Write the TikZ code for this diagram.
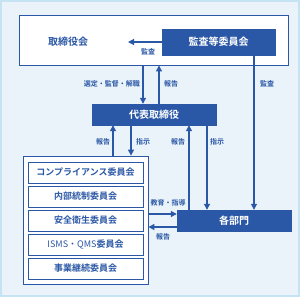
\documentclass[tikz,border=0pt]{standalone}
\usepackage{fontspec}
\newfontfamily\jp{Noto Sans CJK JP Bold}
\newfontfamily\jpr{Noto Sans CJK JP}
\usetikzlibrary{arrows.meta}
\definecolor{navy}{HTML}{2B58A6}
\definecolor{paleblue}{HTML}{EAF3FA}
\definecolor{framec}{HTML}{C5E3F2}
\tikzset{
  whitebox/.style={draw=navy, fill=white, line width=0.9pt, minimum height=21pt,
    text=navy, font=\jp\fontsize{9}{9}\selectfont, inner sep=0pt},
  bluebox/.style={draw=navy, fill=navy, minimum height=21pt,
    text=white, font=\jp\fontsize{10}{10}\selectfont, inner sep=0pt},
  lbl/.style={text=navy, font=\jp\fontsize{7}{7}\selectfont, inner sep=0pt},
  arr/.style={draw=navy, line width=1.1pt, -{Triangle[length=6pt,width=6pt]}}
}
\begin{document}
\begin{tikzpicture}[x=1pt,y=-1pt]
\useasboundingbox (0,0) rectangle (300,297);
% background
\draw[framec, line width=2pt, fill=paleblue] (1,1) rectangle (299,296);
% board of directors
\node[whitebox, minimum width=269pt, minimum height=50pt] (board) at (153.5,40) {};
\node[lbl, font=\jp\fontsize{10}{10}\selectfont] (boardlabel) at (68,42) {取締役会};
\node[bluebox, minimum width=113pt, minimum height=26pt] (audit) at (218.5,42) {監査等委員会};
% president
\node[bluebox, minimum width=124pt] (ceo) at (154,114.5) {代表取締役};
% committees
\node[draw=navy, fill=white, line width=0.8pt, minimum width=125pt, minimum height=128pt] (comm) at (85.5,220) {};
\foreach \name/\txt [count=\i] in {c1/コンプライアンス委員会, c2/内部統制委員会,
    c3/安全衛生委員会, c4/{{\jpr ISMS・QMS}委員会}, c5/事業継続委員会}
  \node[whitebox, minimum width=115pt] (\name) at (85.5,148.5+24*\i) {\txt};
% departments
\node[bluebox, minimum width=114pt] (dept) at (234,220.5) {各部門};
% x positions of the vertical lines
\coordinate (xa) at (143,0);
\coordinate (xb) at (159,0);
\coordinate (xc) at (254,0);
\coordinate (xd) at (113,0);
\coordinate (xe) at (131,0);
\coordinate (xf) at (189,0);
\coordinate (xg) at (207,0);
\coordinate (auditend) at (128,42);
% audit committee -> board
\draw[arr] (audit.west) -- (auditend);
\node[lbl] (l1) at (148,52) {監査};
% board <-> president
\draw[arr] (board.south -| xa) -- (ceo.north -| xa);
\draw[arr] (ceo.north -| xb) -- (board.south -| xb);
\node[lbl, anchor=east] (l2) at (140,84) {選定・監督・解職};
\node[lbl] (l3) at (171,84) {報告};
% audit -> departments
\draw[arr] (audit.south -| xc) -- (dept.north -| xc);
\node[lbl] (l4) at (267,84) {監査};
% president <-> committees
\draw[arr] (comm.north -| xd) -- (ceo.south -| xd);
\draw[arr] (ceo.south -| xe) -- (comm.north -| xe);
\node[lbl] (l5) at (103,142) {報告};
\node[lbl] (l6) at (143,142) {指示};
% president <-> departments
\draw[arr] (dept.north -| xf) -- (ceo.south -| xf);
\draw[arr] (ceo.south -| xg) -- (dept.north -| xg);
\node[lbl] (l7) at (178,142) {報告};
\node[lbl] (l8) at (217,142) {指示};
% committees <-> departments
\coordinate (ya) at (0,214);
\coordinate (yb) at (0,227);
\draw[arr] (comm.east |- ya) -- (dept.west |- ya);
\draw[arr] (dept.west |- yb) -- (comm.east |- yb);
\node[lbl] (l9) at (168,203) {教育・指導};
\node[lbl] (l10) at (163,237) {報告};
\end{tikzpicture}
\end{document}
